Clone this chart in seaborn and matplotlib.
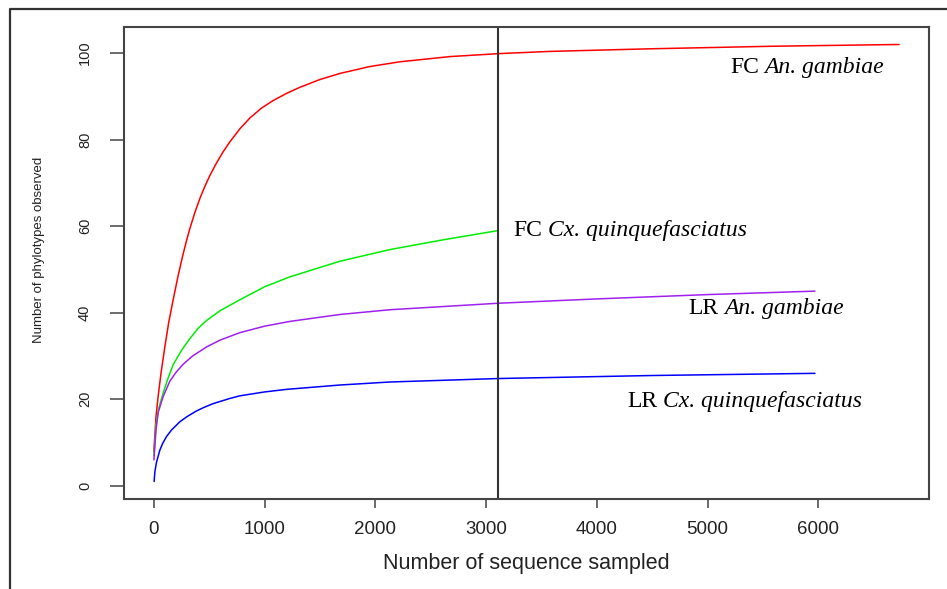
import matplotlib
matplotlib.use("Agg")
import matplotlib.pyplot as plt
from matplotlib.lines import Line2D
import seaborn as sns

# ---- data ----
red_x = [1, 20, 39, 65, 99, 135, 175, 220, 265, 295, 325, 370, 416, 461, 506, 566, 626, 687, 777, 867,
         973, 1075, 1199, 1319, 1500, 1680, 1950, 2222, 2674, 3126, 3577, 4480, 5600, 6730]
red_y = [8, 16, 20.6, 26, 32, 37.8, 43, 48.6, 53.6, 56.6, 59.4, 63.1, 66.4, 69.2, 71.7, 74.6, 77.2, 79.5, 82.5, 85.0,
         87.3, 89.0, 90.7, 92.1, 93.9, 95.3, 96.9, 98.0, 99.2, 99.9, 100.4, 101, 101.6, 102]

green_x = [1, 20, 40, 84, 125, 175, 250, 325, 400, 476, 600, 777, 1000, 1229, 1680, 2132, 2600, 3110]
green_y = [7, 14, 17.5, 21.4, 24.6, 28.0, 31.3, 34.0, 36.4, 38.2, 40.5, 43, 46, 48.3, 51.9, 54.6, 56.8, 59]

purple_x = [1, 20, 40, 84, 145, 200, 265, 350, 476, 600, 777, 1000, 1229, 1680, 2132, 3110, 4000, 5000, 5970]
purple_y = [6, 13, 17, 20.6, 24.2, 26.2, 28.1, 30.0, 32.1, 33.7, 35.4, 36.9, 38.0, 39.6, 40.7, 42.2, 43.2, 44.2, 45]

blue_x = [3, 10, 24, 54, 80, 115, 160, 235, 300, 385, 450, 536, 687, 777, 1000, 1200, 1680, 2132, 3110, 4500, 5970]
blue_y = [1, 3.3, 5.4, 8.2, 9.8, 11.4, 12.9, 14.8, 16.0, 17.3, 18.1, 19.0, 20.2, 20.8, 21.7, 22.3, 23.3, 24.0, 24.8, 25.5, 26]

cutoff_x = 3110

x_ticks = [0, 1000, 2000, 3000, 4000, 5000, 6000]
y_ticks = [0, 20, 40, 60, 80, 100]

labels = [("FC", "An. gambiae"), ("FC", "Cx. quinquefasciatus"),
          ("LR", "An. gambiae"), ("LR", "Cx. quinquefasciatus")]
label_pos = [(5203, 96.7), (3243, 59.0), (4824, 40.9), (4273, 19.4)]

# ---- plotting ----
sns.set_style("white")
plt.rcParams['font.family'] = ['Liberation Sans', 'DejaVu Sans']

fig = plt.figure(figsize=(9.47, 5.89), dpi=100)
ax = fig.add_axes([124/947, 1-499/589, (929-124)/947, (499-27)/589])

lw = 1.1
sns.lineplot(x=red_x, y=red_y, color="#FF0000", lw=lw, ax=ax, sort=False, estimator=None)
sns.lineplot(x=green_x, y=green_y, color="#00EE00", lw=lw, ax=ax, sort=False, estimator=None)
sns.lineplot(x=purple_x, y=purple_y, color="#A020F0", lw=lw, ax=ax, sort=False, estimator=None)
sns.lineplot(x=blue_x, y=blue_y, color="#0000FF", lw=lw, ax=ax, sort=False, estimator=None)

ax.axvline(cutoff_x, color="#333333", lw=1.5)

ax.set_xlim(-269, 7000)
ax.set_ylim(-3.04, 106.04)
ax.set_xticks(x_ticks)
ax.set_yticks(y_ticks)
ax.set_xticklabels([str(v) for v in x_ticks], fontsize=13.5, color="#222222")
ax.set_yticklabels([str(v) for v in y_ticks], fontsize=10.5, color="#222222",
                   rotation=90, va="center")

for s in ax.spines.values():
    s.set_color("#444444")
    s.set_linewidth(1.5)
    s.set_visible(True)

ax.tick_params(axis="x", direction="out", length=6.5, width=1.1, color="#444444", pad=9, bottom=True)
ax.tick_params(axis="y", direction="out", length=10, width=1.1, color="#444444", pad=13, left=True)

ax.set_xlabel("")
ax.set_ylabel("")
fig.text((376+677)/2/947, 1-563/589, "Number of sequence sampled", ha="center", va="center",
         fontsize=15.5, color="#222222")
fig.text(39/947, 1-250/589, "Number of phylotypes observed", ha="center", va="center",
         rotation=90, fontsize=9.5, color="#222222")

for (pre, sp), (lx, ly) in zip(labels, label_pos):
    t1 = ax.text(lx, ly, pre, ha="left", va="center", fontsize=17,
                 family=["Liberation Serif", "DejaVu Serif"], color="black")
    ax.annotate(sp, xy=(1, 0), xycoords=t1, xytext=(4.2, 0), textcoords="offset points",
                ha="left", va="bottom", fontsize=17, style="italic",
                family=["Liberation Serif", "DejaVu Serif"], color="black")

# outer frame (left and top edges)
fig.add_artist(Line2D([10/947, 10/947, 1.0], [0.0, 1-9/589, 1-9/589],
                      transform=fig.transFigure, color="#333333", lw=1.6))

fig.savefig("out.png", dpi=100)
